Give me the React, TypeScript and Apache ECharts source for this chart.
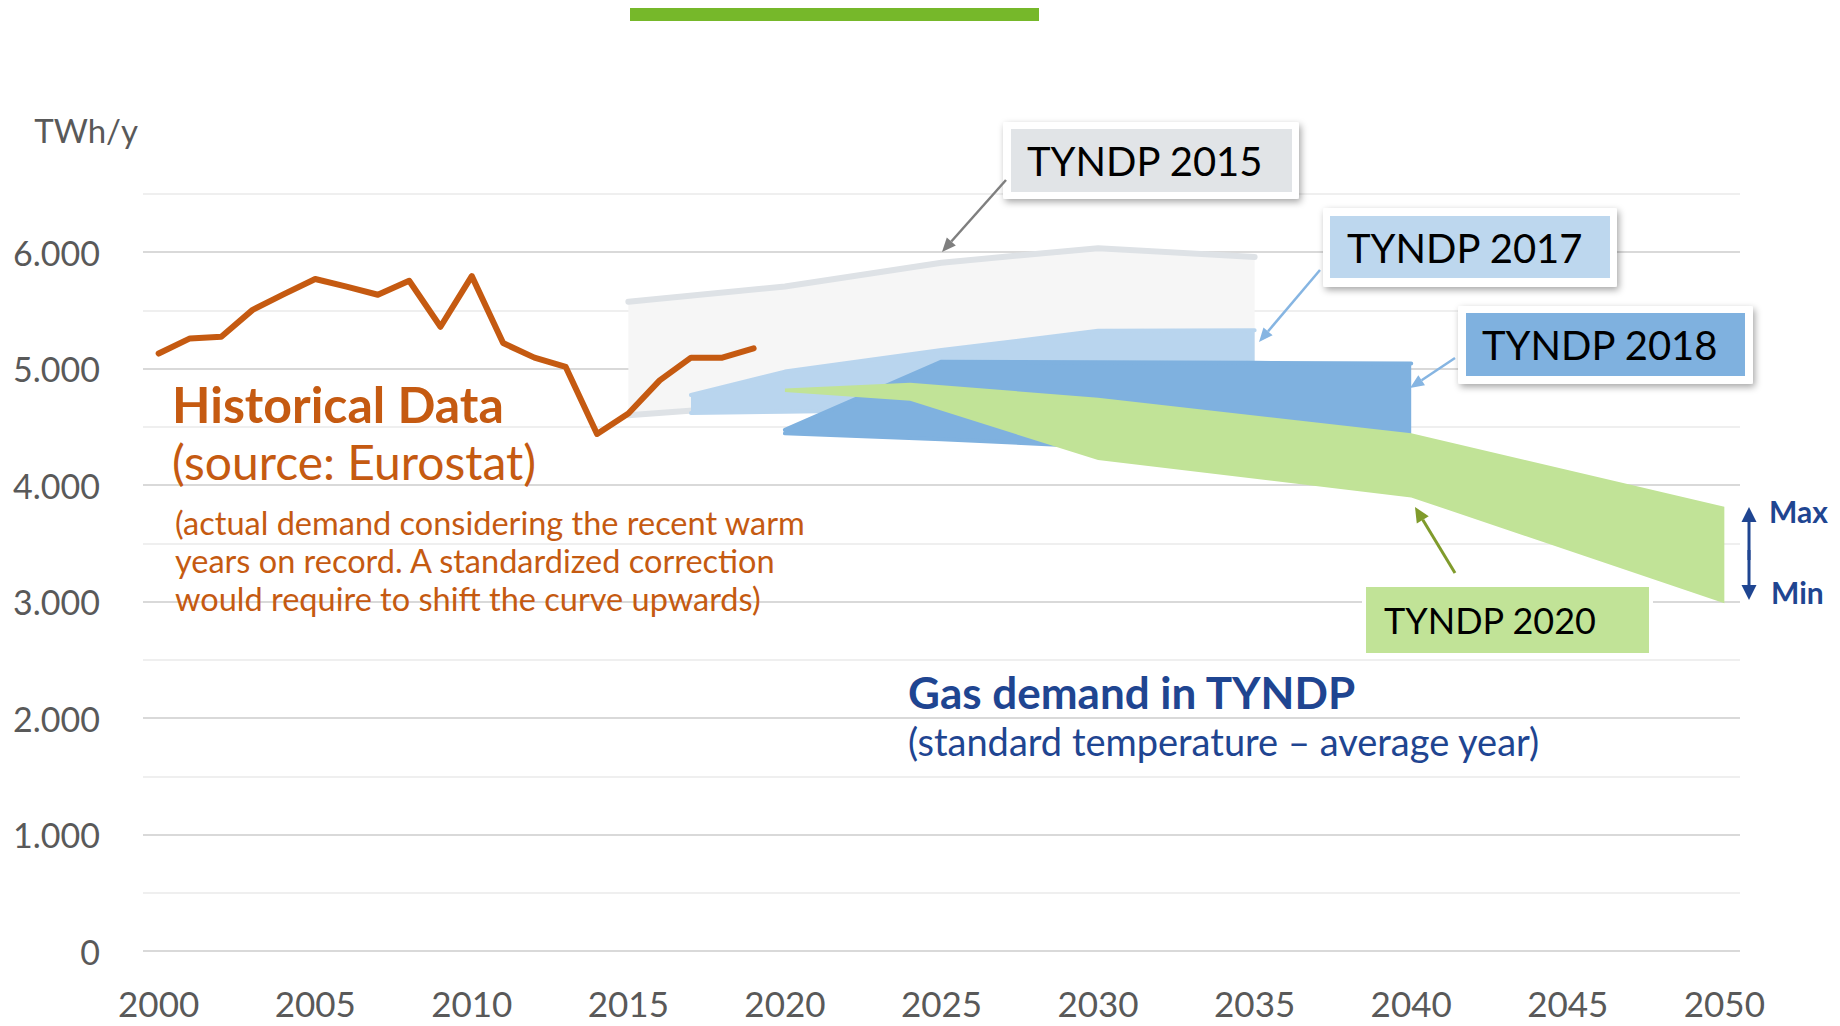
import React, { useEffect, useRef } from "react";
import * as echarts from "echarts";

// ---------- data ----------
const yearCategories = Array.from({ length: 51 }, (_, i) => String(2000 + i));
const historicalValues = [
  5130, 5260, 5275, 5505, 5640, 5770, 5705, 5635, 5755, 5360,
  5795, 5220, 5095, 5015, 4440, 4615, 4900, 5095, 5095, 5175,
];
const tyndp2015Years = [2015, 2020, 2025, 2030, 2035];
const tyndp2015Max = [5575, 5705, 5910, 6035, 5960];
const tyndp2015Min = [4600, 4700, 4760, 4800, 4800];

const tyndp2017Years = [2017, 2020, 2025, 2030, 2035];
const tyndp2017Max = [4775, 4975, 5160, 5325, 5330];
const tyndp2017Min = [4620, 4630, 4650, 4700, 4750];

const tyndp2018Years = [2020, 2025, 2030, 2035, 2040];
const tyndp2018Max = [4475, 5060, 5055, 5050, 5045];
const tyndp2018Min = [4445, 4395, 4330, 4290, 4250];

const tyndp2020Years = [2020, 2024, 2030, 2040, 2050];
const tyndp2020Max = [4830, 4880, 4750, 4445, 3815];
const tyndp2020Min = [4800, 4725, 4215, 3895, 2985];

const FONT = "Lato, 'Open Sans', sans-serif";
const ORANGE = "#C55A11";
const NAVY = "#1F4591";

function bandSeries(
  name: string,
  ys: number[],
  max: number[],
  min: number[],
  fill: string,
  edge: string | null,
  edgeWidth: number
) {
  const data = ys.map((y, i) => [y - 2000, max[i], min[i]]);
  return {
    type: "custom",
    name,
    data,
    silent: true,
    encode: { x: 0, y: [1, 2] },
    renderItem: (params: any, api: any) => {
      if (params.dataIndex !== 0) return null;
      const upper = data.map((d) => api.coord([d[0], d[1]]));
      const lower = data.map((d) => api.coord([d[0], d[2]]));
      const children: any[] = [
        {
          type: "polygon",
          shape: { points: upper.concat(lower.slice().reverse()) },
          style: { fill },
        },
      ];
      if (edge) {
        [upper, lower].forEach((pts) =>
          children.push({
            type: "polyline",
            shape: { points: pts },
            style: { stroke: edge, lineWidth: edgeWidth, fill: null, lineCap: "round", lineJoin: "round" },
          })
        );
      }
      return { type: "group", children };
    },
  };
}

function txt(text: string, x: number, y: number, size: number, color: string, weight: any = "normal") {
  return {
    type: "text",
    silent: true,
    z: 100,
    style: {
      text,
      x,
      y,
      fill: color,
      fontSize: size,
      fontFamily: FONT,
      fontWeight: weight,
      align: "left",
      verticalAlign: "middle",
      textAlign: "left",
      textVerticalAlign: "middle",
    },
  };
}

function arrow(x1: number, y1: number, x2: number, y2: number, color: string, width: number, head = 14, half = 6) {
  const dx = x2 - x1;
  const dy = y2 - y1;
  const len = Math.hypot(dx, dy);
  const ux = dx / len;
  const uy = dy / len;
  const bx = x2 - ux * head;
  const by = y2 - uy * head;
  return [
    { type: "line", silent: true, z: 100, shape: { x1, y1, x2: bx, y2: by }, style: { stroke: color, lineWidth: width } },
    {
      type: "polygon",
      silent: true,
      z: 100,
      shape: { points: [[x2, y2], [bx - uy * half, by + ux * half], [bx + uy * half, by - ux * half]] },
      style: { fill: color },
    },
  ];
}

function labelBox(
  outer: number[],
  inner: number[],
  fill: string,
  text: string,
  tx: number,
  ty: number,
  size: number,
  shadow: boolean
) {
  return [
    {
      type: "rect",
      silent: true,
      z: 100,
      shape: { x: outer[0], y: outer[1], width: outer[2], height: outer[3], r: 2 },
      style: shadow
        ? { fill: "#ffffff", shadowBlur: 7, shadowColor: "rgba(0,0,0,0.35)", shadowOffsetX: 2, shadowOffsetY: 3 }
        : { fill: "#ffffff" },
    },
    {
      type: "rect",
      silent: true,
      z: 101,
      shape: { x: inner[0], y: inner[1], width: inner[2], height: inner[3] },
      style: { fill },
    },
    { ...txt(text, tx, ty, size, "#000000"), z: 102 },
  ];
}

export default function App() {
  const ref = useRef<HTMLDivElement>(null);

  useEffect(() => {
    if (!ref.current) return;
    const chart = echarts.init(ref.current, null, { renderer: "svg" });

    const graphics: any[] = [
      // top green bar
      { type: "rect", silent: true, z: 100, shape: { x: 630, y: 8, width: 409, height: 13 }, style: { fill: "#76B82A" } },
      // historical text
      txt("Historical Data", 172, 404, 50, ORANGE, "bold"),
      txt("(source: Eurostat)", 172, 461, 48, ORANGE),
      txt("(actual demand considering the recent warm", 175, 522, 32.5, ORANGE),
      txt("years on record. A standardized correction", 175, 560, 32.5, ORANGE),
      txt("would require to shift the curve upwards)", 175, 598, 32.5, ORANGE),
      // gas demand text
      txt("Gas demand in TYNDP", 908, 692, 44, NAVY, "bold"),
      txt("(standard temperature \u2013 average year)", 908, 741, 38, NAVY),
      // label boxes
      ...labelBox([1003, 122, 296, 77], [1011, 129, 281, 63], "#E1E4E7", "TYNDP 2015", 1027, 161, 40, true),
      ...labelBox([1323, 208, 294, 79], [1330, 216, 280, 62], "#BDD7EE", "TYNDP 2017", 1347, 248, 40, true),
      ...labelBox([1458, 306, 295, 78], [1466, 313, 279, 63], "#7FB1DF", "TYNDP 2018", 1482, 345, 40, true),
      ...labelBox([1362, 583, 291, 74], [1366, 587, 283, 66], "#C1E397", "TYNDP 2020", 1384, 620, 36, false),
      // arrows
      ...arrow(1006, 180, 942, 252, "#7F7F7F", 2.5),
      ...arrow(1320, 270, 1259, 342, "#86B5E2", 2.5),
      ...arrow(1455, 358, 1410, 388, "#86B5E2", 2.5),
      ...arrow(1455, 573, 1415, 507, "#809B2C", 3, 15, 7),
      // max / min
      ...arrow(1749, 560, 1749, 507, NAVY, 3, 15, 7.5),
      ...arrow(1749, 550, 1749, 600, NAVY, 3, 15, 7.5),
      txt("Max", 1769, 511, 30, NAVY, "bold"),
      txt("Min", 1771, 592, 30, NAVY, "bold"),
    ];

    chart.setOption({
      animation: false,
      backgroundColor: "#ffffff",
      grid: { left: 143, right: 100, top: 194, bottom: 75, containLabel: false },
      xAxis: {
        type: "category",
        data: yearCategories,
        boundaryGap: true,
        axisLine: { show: false },
        axisTick: { show: false },
        splitLine: { show: false },
        axisLabel: {
          interval: 4,
          margin: 35,
          lineHeight: 34,
          color: "#595959",
          fontSize: 35,
          fontFamily: FONT,
        },
      },
      yAxis: {
        type: "value",
        min: 0,
        max: 6500,
        interval: 500,
        name: "TWh/y",
        nameLocation: "end",
        nameGap: 64,
        nameTextStyle: {
          color: "#595959",
          fontSize: 33,
          fontFamily: FONT,
          align: "right",
          verticalAlign: "middle",
          padding: [0, 5, 0, 0],
        },
        axisLine: { show: false },
        axisTick: { show: false },
        splitLine: { show: true, lineStyle: { color: ["#D9D9D9", "#EFEFEF"], width: 2 } },
        axisLabel: {
          margin: 43,
          color: "#595959",
          fontSize: 34,
          fontFamily: FONT,
          formatter: (v: number) => (v % 1000 === 0 ? (v === 0 ? "0" : v / 1000 + ".000") : ""),
        },
      },
      series: [
        bandSeries("TYNDP 2015", tyndp2015Years, tyndp2015Max, tyndp2015Min, "#F6F6F6", "#DEE2E6", 6),
        bandSeries("TYNDP 2017", tyndp2017Years, tyndp2017Max, tyndp2017Min, "#B9D5EE", "#B9D5EE", 4),
        bandSeries("TYNDP 2018", tyndp2018Years, tyndp2018Max, tyndp2018Min, "#7FB1DF", "#7FB1DF", 4),
        bandSeries("TYNDP 2020", tyndp2020Years, tyndp2020Max, tyndp2020Min, "#C1E397", null, 0),
        {
          type: "line",
          name: "Historical Data",
          data: historicalValues,
          symbol: "none",
          silent: true,
          lineStyle: { color: ORANGE, width: 6, cap: "round", join: "round" },
          z: 5,
        },
      ],
      graphic: { elements: graphics },
    });

    return () => chart.dispose();
  }, []);

  return (
    <div
      ref={ref}
      style={{ position: "fixed", left: 0, top: 0, width: 1840, height: 1026, background: "#fff" }}
    />
  );
}
